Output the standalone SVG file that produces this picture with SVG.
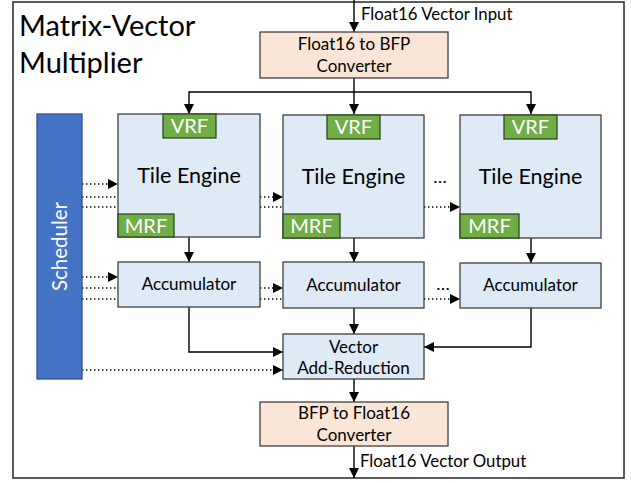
<svg xmlns="http://www.w3.org/2000/svg" width="631" height="483" viewBox="0 0 631 483">
  <defs>
    <marker id="arrow" viewBox="0 0 10 10" refX="10" refY="5" markerWidth="10" markerHeight="10" markerUnits="userSpaceOnUse" orient="auto">
      <path d="M0,0 L10,5 L0,10 Z" fill="#000"/>
    </marker>
    <style>
      text { font-family: Lato, "Liberation Sans", sans-serif; fill: #000; }
      .frame { fill: #fff; stroke: #262626; stroke-width: 1.5; }
      .tile { fill: #DEEAF6; stroke: #404040; stroke-width: 1.3; }
      .conv { fill: #FBE5D6; stroke: #404040; stroke-width: 1.3; }
      .reg { fill: #70AD47; stroke: #2E4A1E; stroke-width: 1.3; }
      .sched { fill: #4472C4; stroke: #2F528F; stroke-width: 1.3; }
      .wire { fill: none; stroke: #000; stroke-width: 1.4; }
      .ctrl { fill: none; stroke: #000; stroke-width: 1.3; stroke-dasharray: 1.4 2.6; }
      .reg-label { fill: #fff; font-size: 20px; text-anchor: middle; }
      .big { font-size: 21.5px; text-anchor: middle; }
      .mid { font-size: 17px; text-anchor: middle; }
      .io { font-size: 16.8px; }
    </style>
  </defs>

  <!-- outer frame and title -->
  <rect class="frame" x="13" y="2" width="611" height="476"/>
  <text x="19" y="36" font-size="29">Matrix-Vector</text>
  <text x="19" y="73" font-size="29">Multiplier</text>

  <!-- connectors -->
  <g id="connectors">
    <!-- vector input -->
    <line class="wire" x1="354" y1="0" x2="354" y2="32" marker-end="url(#arrow)"/>
    <!-- converter to vector register files -->
    <line class="wire" x1="354" y1="78" x2="354" y2="114" marker-end="url(#arrow)"/>
    <line class="wire" x1="189" y1="92" x2="531" y2="92"/>
    <line class="wire" x1="189" y1="91.3" x2="189" y2="114" marker-end="url(#arrow)"/>
    <line class="wire" x1="531" y1="91.3" x2="531" y2="114" marker-end="url(#arrow)"/>
    <!-- tile engines to accumulators -->
    <line class="wire" x1="189" y1="237" x2="189" y2="262" marker-end="url(#arrow)"/>
    <line class="wire" x1="354" y1="238" x2="354" y2="262" marker-end="url(#arrow)"/>
    <line class="wire" x1="531" y1="238" x2="531" y2="263" marker-end="url(#arrow)"/>
    <!-- accumulators to add-reduction -->
    <polyline class="wire" points="189,307 189,352 283,352" marker-end="url(#arrow)"/>
    <line class="wire" x1="354" y1="308" x2="354" y2="334" marker-end="url(#arrow)"/>
    <polyline class="wire" points="531,308 531,347 424,347" marker-end="url(#arrow)"/>
    <!-- add-reduction to output converter -->
    <line class="wire" x1="354" y1="379" x2="354" y2="402" marker-end="url(#arrow)"/>
    <!-- vector output -->
    <line class="wire" x1="354" y1="446" x2="354" y2="478" marker-end="url(#arrow)"/>

    <!-- scheduler control lines to tile engines -->
    <line class="ctrl" x1="82" y1="184" x2="118" y2="184" marker-end="url(#arrow)"/>
    <line class="ctrl" x1="82" y1="197" x2="118" y2="197"/>
    <line class="ctrl" x1="260" y1="197" x2="283" y2="197" marker-end="url(#arrow)"/>
    <line class="ctrl" x1="82" y1="207" x2="118" y2="207"/>
    <line class="ctrl" x1="260" y1="207" x2="283" y2="207"/>
    <line class="ctrl" x1="424" y1="207" x2="460" y2="207" marker-end="url(#arrow)"/>
    <!-- scheduler control lines to accumulators -->
    <line class="ctrl" x1="82" y1="277" x2="118" y2="277" marker-end="url(#arrow)"/>
    <line class="ctrl" x1="82" y1="288" x2="118" y2="288"/>
    <line class="ctrl" x1="260" y1="288" x2="283" y2="288" marker-end="url(#arrow)"/>
    <line class="ctrl" x1="82" y1="299" x2="118" y2="299"/>
    <line class="ctrl" x1="260" y1="299" x2="283" y2="299"/>
    <line class="ctrl" x1="424" y1="299" x2="460" y2="299" marker-end="url(#arrow)"/>
    <!-- scheduler control line to add-reduction -->
    <line class="ctrl" x1="82" y1="370" x2="283" y2="370" marker-end="url(#arrow)"/>
  </g>

  <!-- input / output labels and ellipses -->
  <text class="io" x="361" y="20">Float16 Vector Input</text>
  <text class="io" x="360" y="467">Float16 Vector Output</text>
  <text x="440" y="183" font-size="18" text-anchor="middle">…</text>
  <text x="443" y="290" font-size="18" text-anchor="middle">…</text>

  <g id="fp16-to-bfp">
    <rect class="conv" x="260" y="32" width="188" height="46"/>
    <text class="mid" x="354" y="50">Float16 to BFP</text>
    <text class="mid" x="354" y="72">Converter</text>
  </g>

  <g id="scheduler">
    <rect class="sched" x="37" y="114" width="45" height="265"/>
    <text x="0" y="0" font-size="20.5" style="fill:#fff" text-anchor="middle" transform="translate(67,246.5) rotate(-90)">Scheduler</text>
  </g>

  <g id="tile-engine-1">
    <rect class="tile" x="118" y="114" width="142" height="123"/>
    <rect class="reg" x="163" y="114" width="53" height="24"/>
    <text class="reg-label" x="189.5" y="133">VRF</text>
    <rect class="reg" x="118" y="214" width="56" height="23"/>
    <text class="reg-label" x="146" y="233">MRF</text>
    <text class="big" x="189" y="183">Tile Engine</text>
  </g>

  <g id="tile-engine-2">
    <rect class="tile" x="283" y="115" width="141" height="123"/>
    <rect class="reg" x="327" y="115" width="53" height="24"/>
    <text class="reg-label" x="353.5" y="134">VRF</text>
    <rect class="reg" x="283" y="214" width="57" height="24"/>
    <text class="reg-label" x="311.5" y="233">MRF</text>
    <text class="big" x="353.5" y="184">Tile Engine</text>
  </g>

  <g id="tile-engine-n">
    <rect class="tile" x="460" y="115" width="141" height="123"/>
    <rect class="reg" x="504" y="115" width="53" height="24"/>
    <text class="reg-label" x="530.5" y="134">VRF</text>
    <rect class="reg" x="460" y="214" width="59" height="24"/>
    <text class="reg-label" x="489.5" y="233">MRF</text>
    <text class="big" x="530.5" y="184">Tile Engine</text>
  </g>

  <g id="accumulator-1">
    <rect class="tile" x="118" y="262" width="142" height="45"/>
    <text class="mid" x="189" y="290">Accumulator</text>
  </g>

  <g id="accumulator-2">
    <rect class="tile" x="283" y="262" width="141" height="46"/>
    <text class="mid" x="353.5" y="291">Accumulator</text>
  </g>

  <g id="accumulator-n">
    <rect class="tile" x="460" y="263" width="141" height="45"/>
    <text class="mid" x="530.5" y="291">Accumulator</text>
  </g>

  <g id="vector-add-reduction">
    <rect class="tile" x="283" y="334" width="141" height="45"/>
    <text class="mid" x="353.5" y="353">Vector</text>
    <text class="mid" x="353.5" y="374">Add-Reduction</text>
  </g>

  <g id="bfp-to-fp16">
    <rect class="conv" x="260" y="402" width="188" height="44"/>
    <text class="mid" x="354" y="419">BFP to Float16</text>
    <text class="mid" x="354" y="441">Converter</text>
  </g>
</svg>
